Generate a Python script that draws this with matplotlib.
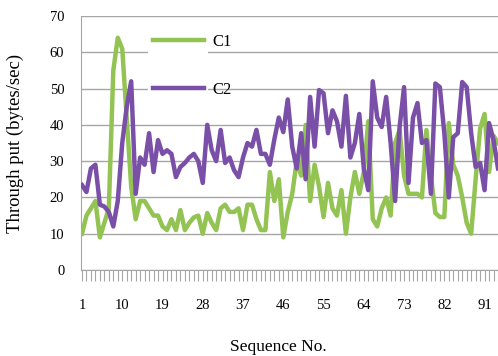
import matplotlib
matplotlib.use("Agg")
import matplotlib.pyplot as plt
import matplotlib.patches as mpatches
import numpy as np

plt.rcParams.update({
    "font.family": ["Liberation Serif", "DejaVu Serif"],
    "font.size": 10.5,
})

# throughput readings per sequence number
c1 = [10, 15, 17, 19, 9, 13, 17, 55, 64, 61,
      42, 23, 14, 19, 19, 17, 15, 15, 12, 11,
      14, 11, 16.5, 11, 13, 14.5, 15, 10, 15.7, 13,
      11, 17, 18, 16, 16, 17, 11, 18, 18, 14,
      11, 11, 27, 19, 25, 9, 16, 21, 30, 26,
      40, 19, 29, 23, 14.6, 24, 17, 15, 22, 10,
      20, 27, 21, 27, 41, 14, 12, 17, 20, 15,
      35, 38.6, 26, 21, 21, 21, 20, 38.6, 26, 15.7,
      14.6, 14.6, 40.5, 29, 26, 20, 13, 10, 25, 39,
      43, 27, 37, 35]
c2 = [23.4, 21.5, 28, 29, 18, 17.5, 16, 12, 19, 35,
      45, 52, 21, 31, 29, 37.7, 27, 35.8, 32, 33,
      32, 25.6, 28.4, 29.5, 31, 32, 30, 24, 40, 33,
      30, 38.6, 29.5, 31, 27.5, 25.6, 31, 35, 34, 38.6,
      32, 32, 29, 36, 42, 38, 47, 34, 28, 37.7,
      25, 47.7, 34, 49.6, 48.7, 37.7, 44, 41, 34, 48,
      31, 35, 43, 28, 22, 52, 42, 39.4, 47.7, 35,
      19, 39.4, 50.4, 24, 42, 46, 35, 35.8, 21, 51.4,
      50.4, 37.7, 20, 36.6, 37.7, 51.8, 50.4, 37.7, 28.4, 29.5,
      22, 40.5, 35.8, 28]
seq = np.arange(1, len(c1) + 1)
tick_labels = [1, 10, 19, 28, 37, 46, 55, 64, 73, 82, 91]

GREEN = "#92C353"
PURPLE = "#7A4FA8"
GRID = "#A6A6A6"

fig = plt.figure(figsize=(4.98, 3.56), dpi=100)
ax = fig.add_axes([81 / 498, 1 - 270 / 356, 417 / 498, 254 / 356])

ax.plot(seq, c1, color=GREEN, lw=3.2, label="C1", zorder=3, solid_joinstyle="round")
ax.plot(seq, c2, color=PURPLE, lw=3.2, label="C2", zorder=4, solid_joinstyle="round")

ax.set_xlim(0.78, 93.0)
ax.set_ylim(0, 70)
ax.set_yticks(range(0, 71, 10))
ax.yaxis.grid(True, color=GRID, lw=1)
ax.set_axisbelow(True)
ax.tick_params(axis="y", length=0, pad=12, labelsize=10.5)

ax.set_xticks(seq)
ax.set_xticklabels([str(s) if s in tick_labels else "" for s in seq])
ax.tick_params(axis="x", length=8, width=0.8, color=GRID, pad=13, labelsize=10.5)

for side in ["top", "right"]:
    ax.spines[side].set_visible(False)
ax.spines["left"].set_color(GRID)
ax.spines["bottom"].set_color(GRID)

# white patch behind the legend lines
ax.add_patch(mpatches.Rectangle((0.161, 0.669), 0.144, 0.307, transform=ax.transAxes,
                                facecolor="white", edgecolor="none", zorder=1.5))

ax.legend(loc="upper left", bbox_to_anchor=(0.172, 0.93), frameon=False,
          handlelength=3.1, handletextpad=0.45, labelspacing=1.95,
          borderpad=0, borderaxespad=0, fontsize=12)

ax.set_ylabel("Through put (bytes/sec)", fontsize=13.5)
ax.yaxis.set_label_coords(-0.137, 0.5)
ax.set_xlabel("Sequence No.", fontsize=12.5)
ax.xaxis.set_label_coords(0.472, -0.27)

fig.savefig("out.png", dpi=100)
